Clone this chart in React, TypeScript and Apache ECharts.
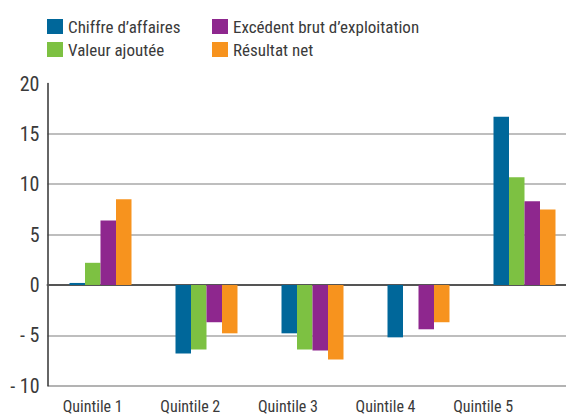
import React, { useEffect, useRef } from 'react';
import * as echarts from 'echarts';

const categories = ['Quintile 1', 'Quintile 2', 'Quintile 3', 'Quintile 4', 'Quintile 5'];
const seriesNames = ["Chiffre d\u2019affaires", 'Valeur ajout\u00e9e', "Exc\u00e9dent brut d\u2019exploitation", 'R\u00e9sultat net'];
const chiffreAffaires = [0.2, -6.8, -4.8, -5.2, 16.7];
const valeurAjoutee = [2.2, -6.4, -6.4, null, 10.7];
const excedentBrut = [6.4, -3.7, -6.5, -4.4, 8.3];
const resultatNet = [8.5, -4.8, -7.4, -3.7, 7.5];
const yMin = -10;
const yMax = 20;
const yInterval = 5;

const colors = ['#00679a', '#7dc142', '#8e278e', '#f7931e'];
const FONT = "'Roboto Condensed', 'DejaVu Sans Condensed', sans-serif";
const TEXT = '#3a3a3a';

export default function App() {
  const ref = useRef<HTMLDivElement>(null);
  useEffect(() => {
    if (!ref.current) return;
    const chart = echarts.init(ref.current, null, { renderer: 'svg' });
    const values = [chiffreAffaires, valeurAjoutee, excedentBrut, resultatNet];
    const legendCommon = {
      orient: 'vertical',
      top: 18,
      padding: 0,
      itemWidth: 16,
      itemHeight: 15,
      itemGap: 6,
      icon: 'rect',
      selectedMode: false,
      textStyle: { fontFamily: FONT, fontSize: 17, color: TEXT },
    };
    chart.setOption({
      animation: false,
      backgroundColor: '#ffffff',
      legend: [
        { ...legendCommon, left: 47, data: [seriesNames[0], seriesNames[1]] },
        { ...legendCommon, left: 212, data: [seriesNames[2], seriesNames[3]] },
      ],
      grid: [
        { left: 47.5, top: 83.5, height: 302.2, width: 530, containLabel: false, outerBoundsMode: 'none' },
        { left: 43.9, top: 83.5, height: 302.2, width: 488, containLabel: false, outerBoundsMode: 'none' },
      ],
      xAxis: [
        {
          type: 'category',
          gridIndex: 0,
          data: categories,
          axisLine: { show: true, onZero: true, lineStyle: { color: '#555555', width: 2 } },
          axisTick: { show: false },
          axisLabel: { show: false },
          splitLine: { show: false },
        },
        {
          type: 'category',
          gridIndex: 1,
          data: categories,
          axisLine: { show: false },
          axisTick: { show: false },
          axisLabel: { show: true, margin: 13, fontFamily: FONT, fontSize: 16, color: TEXT },
          splitLine: { show: false },
        },
      ],
      yAxis: [
        {
          type: 'value',
          gridIndex: 0,
          min: yMin,
          max: yMax,
          interval: yInterval,
          axisLine: { show: true, lineStyle: { color: '#333333', width: 1.5 } },
          axisTick: { show: false },
          axisLabel: {
            margin: 8,
            fontFamily: FONT,
            fontSize: 20,
            color: TEXT,
            padding: [0, 0, 10, 0],
            formatter: (v: number) => (v < 0 ? '- ' + Math.abs(v) : String(v)),
          },
          splitLine: {
            show: true,
            lineStyle: {
              color: ['#9a9a9a', '#a8a8a8', '#555555', '#a8a8a8', '#a8a8a8', '#a8a8a8', 'rgba(0,0,0,0)'],
              width: 1.6,
            },
          },
        },
        { type: 'value', gridIndex: 1, show: false },
      ],
      series: values.map((d, i) => ({
        name: seriesNames[i],
        type: 'bar',
        xAxisIndex: 0,
        yAxisIndex: 0,
        data: d,
        barWidth: 15.5,
        barGap: '0%',
        itemStyle: { color: colors[i] },
      })),
    });
    return () => chart.dispose();
  }, []);
  return <div ref={ref} style={{ position: 'absolute', left: 0, top: 0, width: 566, height: 417 }} />;
}
